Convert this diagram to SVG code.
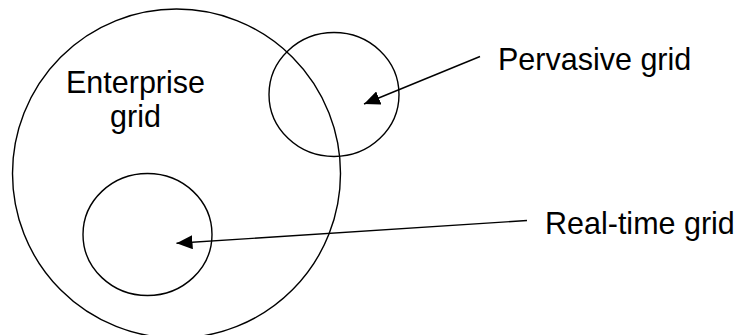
<svg xmlns="http://www.w3.org/2000/svg" width="740" height="335" viewBox="0 0 740 335">
<style>
.shape{fill:none;stroke:#000;stroke-width:1.4}
.lbl{font-family:"Liberation Sans",Arial,sans-serif;font-size:30.5px;fill:#000}
.conn{fill:none;stroke:#000;stroke-width:1.4;marker-end:url(#ah)}
</style>
<defs>
<marker id="ah" viewBox="0 0 16 14" refX="16" refY="7" markerWidth="16" markerHeight="14" markerUnits="userSpaceOnUse" orient="auto">
<path d="M0,0 L16,7 L0,14 z" fill="#000"/>
</marker>
</defs>
<rect width="740" height="335" fill="#fff"/>
<g id="enterprise">
<ellipse class="shape" cx="176.5" cy="173.5" rx="164" ry="164.5"/>
<text class="lbl" x="135.5" y="93.3" text-anchor="middle">Enterprise</text>
<text class="lbl" x="135.5" y="126.8" text-anchor="middle">grid</text>
</g>
<g id="pervasive">
<ellipse class="shape" cx="334" cy="94.5" rx="65" ry="62"/>
</g>
<g id="realtime">
<ellipse class="shape" cx="147.5" cy="234.5" rx="64.5" ry="61"/>
</g>
<g id="label-pervasive">
<text class="lbl" x="498" y="70">Pervasive grid</text>
</g>
<g id="label-realtime">
<text class="lbl" x="545" y="233.5">Real-time grid</text>
</g>
<g id="connectors">
<line class="conn" x1="480" y1="56.5" x2="364" y2="104"/>
<line class="conn" x1="527" y1="220.5" x2="176.5" y2="243.3"/>
</g>
</svg>
